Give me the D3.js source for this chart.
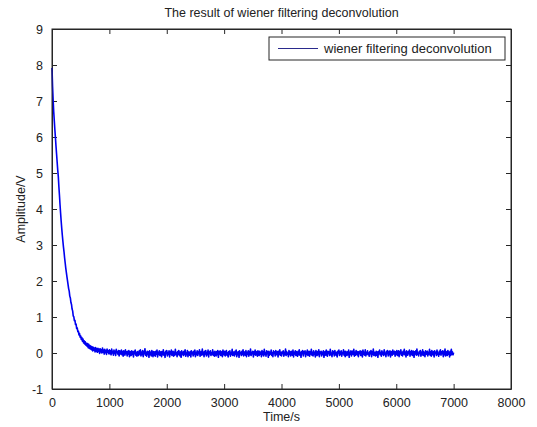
<!DOCTYPE html>
<html lang="en">
	<head>
		<meta charset="utf-8">
		<title>Wiener filtering deconvolution</title>
		<style type="text/css">
			body { margin: 0; background: #fff; }
			text { font-family: "Liberation Sans", Arial, Helvetica, sans-serif; fill: #222; }
		</style>
		<script src="https://d3js.org/d3.v7.min.js"></script>
	</head>
	<body>
		<script type="text/javascript">
			//Width and height
			var w = 537;
			var h = 427;
			var margin = {top: 29, right: 26, bottom: 38, left: 52};

			var chartTitle = "The result of wiener filtering deconvolution";
			var xLabel = "Time/s";
			var yLabel = "Amplitude/V";
			var seriesName = "wiener filtering deconvolution";

			var xTicks = [0, 1000, 2000, 3000, 4000, 5000, 6000, 7000, 8000];
			var yTicks = [-1, 0, 1, 2, 3, 4, 5, 6, 7, 8, 9];

			// one sample every 10 s, starting at 0 s
			var sampleStep = 10;

			// amplitude (V), 0 s .. 7000 s
			var amplitude = [
				7.92,7.40,7.02,6.70,6.45,6.20,5.98,5.74,5.52,5.30,
				5.08,4.90,4.62,4.38,4.12,3.88,3.66,3.46,3.27,3.10,
				2.94,2.80,2.64,2.50,2.36,2.24,2.12,2.01,1.90,1.79,
				1.72,1.58,1.53,1.40,1.35,1.22,1.17,1.03,1.01,0.90,
				0.91,0.79,0.80,0.68,0.70,0.59,0.61,0.50,0.54,0.44,
				0.47,0.38,0.43,0.33,0.39,0.28,0.34,0.25,0.31,0.22,
				0.27,0.19,0.26,0.15,0.24,0.13,0.21,0.11,0.19,0.09,
				0.17,0.06,0.16,0.08,0.14,0.03,0.15,0.05,0.12,0.02,
				0.13,0.04,0.11,-0.01,0.12,0.03,0.09,0.00,0.14,0.02,
				0.08,-0.03,0.10,0.01,0.07,-0.04,0.11,0.02,0.06,-0.02,
				0.09,-0.02,0.06,-0.05,0.11,0.00,0.04,-0.06,0.08,-0.01,
				0.05,-0.07,0.10,0.01,0.03,-0.04,0.07,-0.08,0.06,0.02,
				-0.03,0.08,-0.05,0.04,-0.09,0.06,0.00,-0.06,0.09,-0.02,
				0.03,-0.08,0.05,-0.03,0.07,-0.10,0.02,0.04,-0.07,0.06,
				-0.04,0.03,-0.11,0.05,-0.02,0.08,-0.06,0.01,-0.09,0.04,
				0.00,-0.07,0.06,-0.03,0.09,-0.08,0.02,-0.05,0.07,-0.10,
				0.04,-0.02,0.12,-0.06,0.01,-0.09,0.05,-0.04,0.03,-0.12,
				0.06,-0.05,0.02,-0.08,0.07,-0.01,-0.10,0.04,-0.06,0.03,
				-0.09,0.05,-0.03,0.08,-0.11,0.02,-0.04,0.06,-0.07,0.01,
				0.04,-0.10,0.03,-0.05,0.09,-0.06,0.00,-0.12,0.05,-0.02,
				0.07,-0.08,0.01,-0.04,0.06,-0.11,0.03,-0.03,0.08,-0.07,
				-0.01,0.05,-0.09,0.02,-0.06,0.10,-0.04,0.01,-0.10,0.04,
				-0.05,0.07,-0.02,-0.08,0.03,-0.12,0.06,-0.03,0.02,-0.07,
				0.05,-0.04,0.09,-0.09,0.00,-0.05,0.07,-0.10,0.03,-0.01,
				-0.06,0.04,-0.11,0.06,-0.02,0.02,-0.08,0.05,-0.04,0.08,
				-0.10,0.01,-0.05,0.06,-0.07,0.03,-0.02,0.09,-0.09,0.00,
				0.04,-0.06,0.11,-0.04,0.02,-0.10,0.05,-0.03,0.07,-0.08,
				0.01,-0.05,0.08,-0.11,0.03,-0.02,0.06,-0.07,0.00,-0.04,
				0.09,-0.06,0.02,-0.09,0.05,-0.01,-0.08,0.04,-0.05,0.07,
				-0.12,0.03,-0.03,0.06,-0.07,0.01,0.04,-0.10,0.08,-0.02,
				-0.05,0.05,-0.08,0.02,0.07,-0.06,0.00,-0.11,0.04,-0.03,
				0.06,-0.09,0.01,-0.04,0.10,-0.07,0.03,-0.01,-0.08,0.05,
				-0.03,0.08,-0.10,0.02,-0.05,0.04,-0.12,0.06,-0.02,0.01,
				-0.07,0.05,-0.04,0.09,-0.08,0.00,0.03,-0.06,0.07,-0.10,
				0.02,-0.03,0.06,-0.09,0.04,-0.05,0.11,-0.07,0.01,-0.02,
				0.05,-0.11,0.03,-0.04,0.08,-0.06,0.00,0.04,-0.09,0.06,
				-0.01,-0.07,0.05,-0.03,0.02,-0.10,0.07,-0.05,0.03,-0.08,
				0.10,-0.04,0.01,-0.09,0.06,-0.02,0.04,-0.12,0.05,-0.06,
				0.02,-0.03,0.08,-0.07,0.00,-0.10,0.06,-0.01,0.03,-0.08,
				0.07,-0.05,-0.02,0.04,-0.11,0.05,-0.04,0.09,-0.06,0.01,
				-0.08,0.03,-0.01,0.06,-0.09,0.02,-0.05,0.11,-0.07,0.04,
				-0.03,0.00,-0.10,0.07,-0.04,0.03,-0.08,0.05,-0.02,-0.06,
				0.08,-0.11,0.02,-0.03,0.06,-0.07,0.04,0.00,-0.09,0.05,
				-0.05,0.09,-0.06,0.01,-0.12,0.04,-0.02,0.07,-0.08,0.03,
				-0.01,0.06,-0.10,0.02,-0.04,0.08,-0.07,0.00,0.05,-0.09,
				0.03,-0.03,0.10,-0.06,0.01,-0.08,0.06,-0.04,0.02,-0.11,
				0.07,-0.02,-0.07,0.04,-0.05,0.09,-0.10,0.03,-0.01,0.05,
				-0.08,0.02,-0.04,0.06,-0.12,0.01,0.04,-0.06,0.08,-0.03,
				-0.09,0.05,-0.01,0.03,-0.07,0.10,-0.05,0.00,-0.10,0.06,
				-0.02,0.04,-0.08,0.07,-0.03,-0.06,0.02,-0.11,0.05,0.00,
				0.08,-0.07,0.03,-0.04,0.06,-0.09,0.01,-0.02,0.09,-0.06,
				0.04,-0.10,0.05,-0.01,-0.07,0.03,-0.05,0.08,-0.12,0.02,
				-0.03,0.06,-0.08,0.01,0.05,-0.04,0.10,-0.09,0.02,-0.06,
				0.07,-0.02,-0.05,0.04,-0.10,0.03,-0.01,0.06,-0.07,0.00,
				0.05,-0.11,0.08,-0.04,0.02,-0.06,0.09,-0.08,0.01,-0.03,
				0.06,-0.05,0.00,-0.09,0.04,-0.02,0.07,-0.10,0.03,-0.04,
				0.11,-0.07,0.02,-0.01,-0.08,0.05,-0.06,0.03,-0.12,0.04,
				-0.02,0.08,-0.05,0.01,-0.09,0.06,-0.03,0.02,-0.07,0.09,
				-0.04,0.00,-0.10,0.05,-0.02,0.07,-0.08,0.03,-0.05,0.06,
				-0.11,0.02,0.04,-0.06,0.08,-0.03,-0.01,0.05,-0.09,0.03,
				-0.04,0.07,-0.07,0.00,0.06,-0.10,0.04,-0.02,0.09,-0.06,
				0.01,-0.08,0.05,-0.03,0.10,-0.05,0.02,-0.11,0.06,-0.01,
				-0.06,0.04,-0.02,0.08,-0.09,0.03,-0.04,0.07,-0.07,0.01,
				0.05,-0.12,0.03,-0.03,0.06,-0.06,0.11,-0.04,0.00,-0.08,
				0.04,-0.01,0.07,-0.09,0.02,-0.05,0.09,-0.07,0.03,-0.02,
				-0.10,0.06,-0.04,0.01,0.05,-0.08,0.02,-0.03,0.10,-0.06,
				0.03,-0.09,0.07,-0.02,-0.05,0.04,-0.11,0.06,-0.01,0.02,
				-0.07,0.08,-0.04,0.00,-0.09,0.05,-0.03,0.09,-0.06,0.03,
				-0.02,0.06,-0.10,0.04,-0.05,0.11,-0.08,0.01,0.04,-0.07,
				0.07,-0.03,0.02,-0.11,0.05,-0.06,0.10,-0.04,0.03,-0.05,
				0.01
			];

			var points = amplitude.map(function(d, i) {
				return {t: i * sampleStep, v: d};
			});

			//Create scale functions
			var xScale = d3.scaleLinear()
							.domain([0, 8000])
							.range([margin.left, w - margin.right]);

			var yScale = d3.scaleLinear()
							.domain([-1, 9])
							.range([h - margin.bottom, margin.top]);

			//Create SVG element
			var svg = d3.select("body")
						.append("svg")
						.attr("width", w)
						.attr("height", h);

			svg.append("rect")
				.attr("width", w)
				.attr("height", h)
				.attr("fill", "#fff");

			var tickLen = 5;
			var axisColor = "#262626";

			//Bottom axis with labels, inward ticks (plain hyphen for minus)
			var xAxis = d3.axisBottom(xScale)
				.tickValues(xTicks)
				.tickFormat(String)
				.tickSizeInner(-tickLen)
				.tickSizeOuter(0)
				.tickPadding(9);

			var yAxis = d3.axisLeft(yScale)
				.tickValues(yTicks)
				.tickFormat(String)
				.tickSizeInner(-tickLen)
				.tickSizeOuter(0)
				.tickPadding(9);

			svg.append("g")
				.attr("class", "x axis")
				.attr("transform", "translate(0," + yScale(-1) + ")")
				.call(xAxis);

			svg.append("g")
				.attr("class", "y axis")
				.attr("transform", "translate(" + xScale(0) + ",0)")
				.call(yAxis);

			//Top and right: ticks only
			svg.append("g")
				.attr("transform", "translate(0," + yScale(9) + ")")
				.call(d3.axisTop(xScale).tickValues(xTicks).tickSizeInner(-tickLen).tickSizeOuter(0).tickFormat(""));

			svg.append("g")
				.attr("transform", "translate(" + xScale(8000) + ",0)")
				.call(d3.axisRight(yScale).tickValues(yTicks).tickSizeInner(-tickLen).tickSizeOuter(0).tickFormat(""));

			svg.selectAll(".domain, .tick line")
				.attr("stroke", axisColor)
				.attr("stroke-width", 1);

			svg.selectAll(".tick text")
				.attr("font-size", "12.5px")
				.attr("fill", "#222")
				.style("font-family", "'Liberation Sans', Arial, sans-serif");

			//Data line
			var line = d3.line()
				.x(function(d) { return xScale(d.t); })
				.y(function(d) { return yScale(d.v); });

			svg.append("path")
				.datum(points)
				.attr("d", line)
				.attr("fill", "none")
				.attr("stroke", "#0000f0")
				.attr("stroke-width", 1.6)
				.attr("stroke-linejoin", "round");

			//Box on top of the line
			svg.append("rect")
				.attr("x", xScale(0))
				.attr("y", yScale(9))
				.attr("width", xScale(8000) - xScale(0))
				.attr("height", yScale(-1) - yScale(9))
				.attr("fill", "none")
				.attr("stroke", axisColor)
				.attr("stroke-width", 1);

			//Legend
			var legend = svg.append("g")
				.attr("transform", "translate(269,37)");

			legend.append("rect")
				.attr("width", 236)
				.attr("height", 23)
				.attr("fill", "#fff")
				.attr("stroke", axisColor)
				.attr("stroke-width", 1);

			legend.append("line")
				.attr("x1", 9)
				.attr("x2", 49)
				.attr("y1", 11.5)
				.attr("y2", 11.5)
				.attr("stroke", "#2a2a8c")
				.attr("stroke-width", 1.2);

			legend.append("text")
				.attr("x", 55)
				.attr("y", 16)
				.attr("font-size", "13px")
				.text(seriesName);

			//Title and axis labels
			svg.append("text")
				.attr("x", (xScale(0) + xScale(8000)) / 2)
				.attr("y", 17)
				.attr("text-anchor", "middle")
				.attr("font-size", "12.5px")
				.text(chartTitle);

			svg.append("text")
				.attr("x", (xScale(0) + xScale(8000)) / 2)
				.attr("y", 421)
				.attr("text-anchor", "middle")
				.attr("font-size", "12.5px")
				.text(xLabel);

			svg.append("text")
				.attr("transform", "translate(25," + ((yScale(-1) + yScale(9)) / 2) + ") rotate(-90)")
				.attr("text-anchor", "middle")
				.attr("font-size", "12.5px")
				.text(yLabel);
		</script>
	</body>
</html>
